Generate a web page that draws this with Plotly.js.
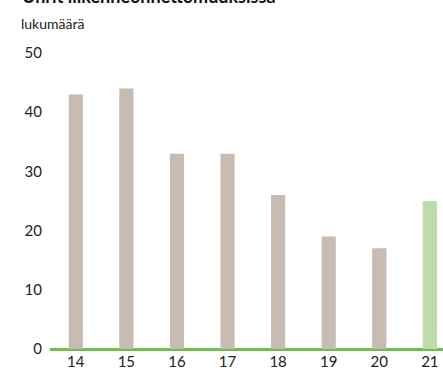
<!DOCTYPE html>
<html><head><meta charset="utf-8">
<script src="https://cdn.plot.ly/plotly-3.0.1.min.js"></script>
<style>html,body{margin:0;padding:0;background:#fff}#c{width:443px;height:372px}</style>
</head><body><div id="c"></div>
<script>
const years = ['14','15','16','17','18','19','20','21'];
const values = [43, 44, 33, 33, 26, 19, 17, 25];
const colors = ['#c8bbb1','#c8bbb1','#c8bbb1','#c8bbb1','#c8bbb1','#c8bbb1','#c8bbb1','#bddca9'];
const yTicks = [0, 10, 20, 30, 40, 50];
const titleText = 'Uhrit liikenneonnettomuuksissa';
const unitText = 'lukumäärä';

const W = 443, H = 372, L = 50, T = 53, B = 23;
const plotH = H - T - B, plotW = W - L;
const font = {family: 'Lato, "Open Sans", sans-serif', size: 15, color: '#222'};

Plotly.newPlot('c', [{
  type: 'bar', x: years, y: values, marker: {color: colors}, width: 0.28,
  hoverinfo: 'x+y'
}], {
  width: W, height: H, margin: {l: L, r: 0, t: T, b: B, pad: 0},
  paper_bgcolor: '#fff', plot_bgcolor: '#fff', showlegend: false,
  font: font,
  xaxis: {type: 'category', range: [-0.51, 7.26], showgrid: false, showline: false, zeroline: false,
          ticks: '', tickfont: font, ticklabelstandoff: 2, fixedrange: true},
  yaxis: {range: [0, 50], tickvals: yTicks, showgrid: false, showline: false,
          zeroline: true, zerolinecolor: '#6cc04a', zerolinewidth: 3,
          ticks: '', tickfont: font, ticklabelstandoff: 7, fixedrange: true},
  annotations: [
    {xref: 'paper', yref: 'paper', x: (20 - L) / plotW, y: (H - B - 9) / plotH, xanchor: 'left', yanchor: 'bottom',
     text: '<b>' + titleText + '</b>', showarrow: false, font: {family: 'Lato, sans-serif', size: 18, color: '#111'}},
    {xref: 'paper', yref: 'paper', x: (19 - L) / plotW, y: (H - B - 24) / plotH, xanchor: 'left', yanchor: 'middle',
     text: unitText, showarrow: false, font: {family: 'Lato, sans-serif', size: 14, color: '#222'}}
  ]
}, {displayModeBar: false, staticPlot: true});
</script></body></html>
